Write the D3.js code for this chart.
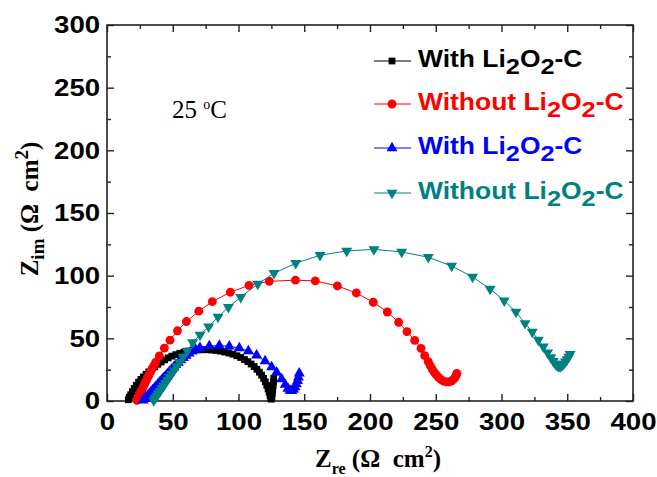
<!DOCTYPE html>
<html>
<head>
<meta charset="utf-8">
<script src="https://cdn.jsdelivr.net/npm/d3@7"></script>
<style>
  body { margin: 0; background: #fff; }
  svg { display: block; }
  text { white-space: pre; }
</style>
</head>
<body>
<script>
// Nyquist data: [Z_re, Z_im] in ohm cm2.
const withA = [[16.2,1],[17,3],[18,5],[19.3,7.5],[20.7,10],[22.3,12.5],[24,15],[25.8,17.2],[27.7,19.2],[29.7,21.3],[31.8,23.3],[34,25.3],[36.3,27.3],[38.7,29.3],[41.2,31.1],[43.8,32.8],[46.5,34.4],[49.3,35.8],[52.3,37],[55.4,38.1],[58.6,39],[61.9,39.8],[65.3,40.3],[68.8,40.7],[72.3,40.9],[75.8,40.9],[79.3,40.7],[82.8,40.3],[86.2,39.8],[89.5,39.1],[92.7,38.3],[95.8,37.3],[98.8,36.1],[101.7,34.7],[104.5,33.1],[107.1,31.4],[109.6,29.5],[111.9,27.5],[114,25.3],[115.9,23],[117.6,20.6],[119.1,18],[120.4,15.3],[121.5,12.5],[122.5,9.7],[123.3,7],[124,4.5],[124.5,2.3],[125,1.5],[125.4,3.5],[125.7,6],[126,9],[126.3,12],[126.6,15],[126.8,18]];
const withoutA = [[22.8,0.5],[23.6,2.3],[24.4,4.1],[25.2,5.9],[26,7.7],[26.8,9.5],[27.6,11.3],[28.4,13.1],[29.2,14.9],[30.1,16.9],[31,18.9],[32,21],[33.1,23.3],[34.3,25.7],[35.6,28.2],[37,30.9],[39.8,35.9],[43.6,42.2],[47.9,48.6],[53.6,56],[60.4,63.4],[69.8,71.7],[80.1,79.3],[93.8,86.8],[108,92.3],[123.4,95.5],[143.3,96.4],[158.4,95.8],[175.2,91.8],[189.6,86.2],[202.5,78.8],[213.2,71],[221.8,62.8],[228.1,55.3],[234,48.4],[238.8,42],[241.6,36.2],[244.3,31.4],[245.8,28.3],[247.3,25.5],[248.8,23],[250.4,20.8],[252.1,18.8],[254,17.1],[256,15.9],[258,15.3],[260,15.3],[261.8,15.9],[263.3,17],[264.5,18.5],[265.4,20.2],[266,22]];
const withB = [[27.5,0.5],[28.6,1.8],[29.8,3.1],[31,4.4],[32.2,5.8],[33.4,7.2],[34.7,8.7],[36,10.2],[37.3,11.7],[38.6,13.2],[40,14.8],[41.4,16.4],[42.8,18],[44.3,19.7],[45.8,21.4],[47.4,23.2],[49,25],[50.7,26.9],[52.4,28.8],[54.2,30.7],[56.1,32.6],[58.1,34.5],[60.2,36.3],[62.4,38],[64.8,39.6],[67.5,41],[70.7,42.4],[77.8,43.8],[85.4,44.2],[93,43.7],[100.6,42.2],[107.5,39.8],[113.8,36.5],[120.2,31.8],[125.2,27],[129,22.8],[132.8,17.5],[135.5,13],[137.6,10],[139.2,8.3],[140.6,8.2],[141.9,9.3],[143,11.2],[144,13.5],[144.9,16],[145.6,18.8],[146.2,22]];
const withoutB = [[35.5,0.5],[36.6,2.2],[37.8,4.1],[39,5.9],[40.3,7.9],[41.6,10],[43,12.1],[44.4,14.3],[45.9,16.6],[47.5,19.1],[49.2,21.7],[51,24.5],[53,27.6],[55.2,31],[57.8,35.1],[61,40],[65.1,46.8],[70.7,52.7],[77.3,59.3],[84.4,67],[92.3,74.8],[101.7,82.8],[114.6,93.4],[127,101.9],[143.5,109.9],[162,116.3],[182.3,119.7],[203,121],[224.1,118.9],[244.3,114.7],[262.1,107.7],[278,99],[291.3,89.4],[302.1,80],[311,71],[317.9,62],[323.4,55.1],[328,48.7],[331.8,43.3],[335.1,38.5],[337.5,34.8],[339.4,31.8],[341,29.6],[342.4,28.2],[343.6,27.5],[344.8,27.6],[346,28.3],[347.3,29.6],[348.6,31.3],[349.9,33.2],[351.1,35.2],[352.1,37.3]];

const xTicks = [0, 50, 100, 150, 200, 250, 300, 350, 400];
const yTicks = [0, 50, 100, 150, 200, 250, 300];
const legendNames = ['With', 'Without', 'With', 'Without'];

// Size of the picture and the plot box.
const size = {width: 657, height: 477};
const box = {left: 107, top: 25, right: 633, bottom: 401};

const x = d3.scaleLinear().domain([0, 400]).range([box.left, box.right]);
const y = d3.scaleLinear().domain([0, 300]).range([box.bottom, box.top]);

const series = [
  {data: withA, color: '#000000', shape: d3.symbolSquare, symSize: 46, rot: 0},
  {data: withoutA, color: '#ff0000', shape: d3.symbolCircle, symSize: 62, rot: 0},
  {data: withB, color: '#0000ff', shape: d3.symbolTriangle, symSize: 52, rot: 0},
  {data: withoutB, color: '#008080', shape: d3.symbolTriangle, symSize: 52, rot: 180}
];

const svg = d3.select('body')
      .append('svg')
      .attr('width', size.width)
      .attr('height', size.height);

const sans = '"Liberation Sans", Arial, sans-serif';
const serif = '"Liberation Serif", "Times New Roman", serif';
// Origin's bold Arial is drawn a little wider than ours.
const widen = 'scale(1.15,1)';

// Axes: ticks point inwards, minor ticks halfway.
const minorX = d3.range(25, 400, 50);
const minorY = d3.range(25, 300, 50);

function drawAxis(axis, tr, cls)
{
  const g = svg.append('g').attr('class', cls).attr('transform', tr).call(axis);
  g.select('.domain').remove();
  g.selectAll('line').attr('stroke', '#222').attr('stroke-width', 1.4);
  g.selectAll('text')
    .style('font-family', sans)
    .style('font-weight', 'bold')
    .style('font-size', '24px')
    .attr('transform', widen)
    .attr('fill', '#000');
  return g;
}

drawAxis(d3.axisBottom(x).tickValues(xTicks).tickSize(-7).tickPadding(12), 'translate(0,' + box.bottom + ')', 'x-axis');
drawAxis(d3.axisBottom(x).tickValues(minorX).tickSize(-4).tickFormat(''), 'translate(0,' + box.bottom + ')', 'x-minor');
drawAxis(d3.axisTop(x).tickValues(xTicks).tickSize(-7).tickFormat(''), 'translate(0,' + box.top + ')', 'x-top');
drawAxis(d3.axisTop(x).tickValues(minorX).tickSize(-4).tickFormat(''), 'translate(0,' + box.top + ')', 'x-top-minor');
drawAxis(d3.axisLeft(y).tickValues(yTicks).tickSize(-7).tickPadding(6), 'translate(' + box.left + ',0)', 'y-axis');
drawAxis(d3.axisLeft(y).tickValues(minorY).tickSize(-4).tickFormat(''), 'translate(' + box.left + ',0)', 'y-minor');
drawAxis(d3.axisRight(y).tickValues(yTicks).tickSize(-7).tickFormat(''), 'translate(' + box.right + ',0)', 'y-right');
drawAxis(d3.axisRight(y).tickValues(minorY).tickSize(-4).tickFormat(''), 'translate(' + box.right + ',0)', 'y-right-minor');

svg.append('rect')
  .attr('x', box.left)
  .attr('y', box.top)
  .attr('width', box.right - box.left)
  .attr('height', box.bottom - box.top)
  .attr('fill', 'none')
  .attr('stroke', '#222')
  .attr('stroke-width', 1.6);

// Lines and markers.
const line = d3.line().x((d) => x(d[0])).y((d) => y(d[1]));

series.forEach((s) =>
  {
    svg.append('path')
      .datum(s.data)
      .attr('d', line)
      .attr('fill', 'none')
      .attr('stroke', s.color)
      .attr('stroke-width', 1);

    svg.append('g')
      .selectAll('path')
      .data(s.data)
      .enter()
      .append('path')
      .attr('d', d3.symbol().type(s.shape).size(s.symSize))
      .attr('transform', (d) => 'translate(' + x(d[0]) + ',' + y(d[1]) + ') rotate(' + s.rot + ')')
      .attr('fill', s.color);
  });

// Legend.
const legendRowY = [61, 104, 148, 193];
const legend = svg.append('g').attr('class', 'legend');

series.forEach((s, i) =>
  {
    const ly = legendRowY[i];
    legend.append('line')
      .attr('x1', 374).attr('x2', 411)
      .attr('y1', ly).attr('y2', ly)
      .attr('stroke', s.color)
      .attr('stroke-width', 1);
    legend.append('path')
      .attr('d', d3.symbol().type(s.shape).size(s.symSize))
      .attr('transform', 'translate(392,' + ly + ') rotate(' + s.rot + ')')
      .attr('fill', s.color);

    const t = legend.append('text')
          .attr('transform', 'translate(418,' + (ly + 6) + ') ' + widen)
          .attr('fill', s.color)
          .style('font-family', sans)
          .style('font-weight', 'bold')
          .style('font-size', '23px');
    t.append('tspan').text(legendNames[i] + ' Li');
    t.append('tspan').attr('dy', 7).style('font-size', '22px').text('2');
    t.append('tspan').attr('dy', -7).text('O');
    t.append('tspan').attr('dy', 7).style('font-size', '22px').text('2');
    t.append('tspan').attr('dy', -7).text('-C');
  });

// Temperature note.
const note = svg.append('text')
      .attr('x', 172)
      .attr('y', 118)
      .style('font-family', serif)
      .style('font-size', '25px')
      .attr('fill', '#000');
note.append('tspan').text('25 ');
note.append('tspan').attr('dy', -9).style('font-size', '14px').text('o');
note.append('tspan').attr('dy', 9).text('C');

// Axis titles.
const xTitle = svg.append('text')
      .attr('x', 315)
      .attr('y', 467)
      .style('font-family', serif)
      .style('font-weight', 'bold')
      .style('font-size', '25px')
      .attr('fill', '#000');
xTitle.append('tspan').text('Z');
xTitle.append('tspan').attr('dy', 7).style('font-size', '16px').text('re');
xTitle.append('tspan').attr('dy', -7).text(' (\u03A9  cm');
xTitle.append('tspan').attr('dy', -10).style('font-size', '16px').text('2');
xTitle.append('tspan').attr('dy', 10).text(')');

const yTitle = svg.append('text')
      .attr('transform', 'translate(38,209) rotate(-90)')
      .attr('text-anchor', 'middle')
      .style('font-family', serif)
      .style('font-weight', 'bold')
      .style('font-size', '25px')
      .attr('fill', '#000');
yTitle.append('tspan').text('Z');
yTitle.append('tspan').attr('dy', 6).style('font-size', '19px').text('im');
yTitle.append('tspan').attr('dy', -6).text(' (\u03A9  cm');
yTitle.append('tspan').attr('dy', -10).style('font-size', '19px').text('2');
yTitle.append('tspan').attr('dy', 10).text(')');
</script>
</body>
</html>
